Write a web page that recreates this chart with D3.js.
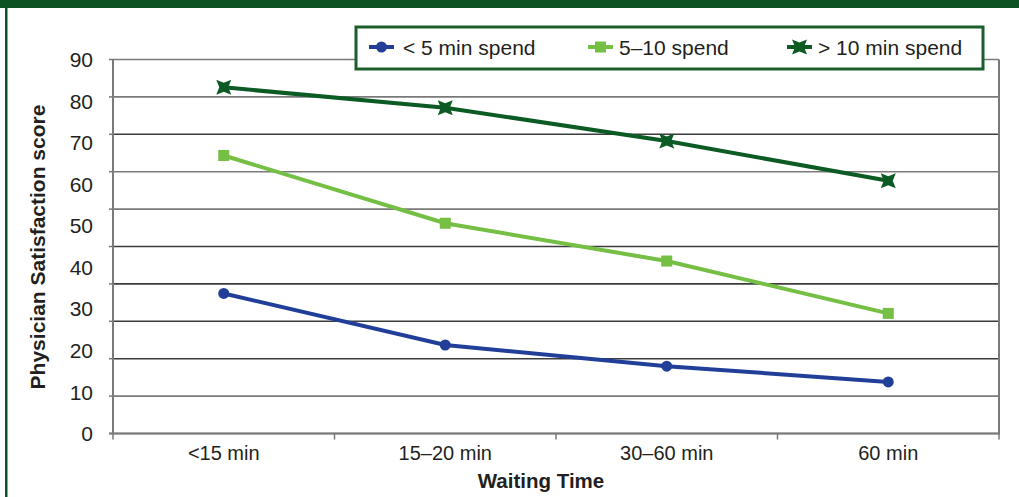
<!DOCTYPE html>
<html><head><meta charset="utf-8">
<script src="https://cdn.jsdelivr.net/npm/d3@7"></script>
<style>html,body{margin:0;padding:0;background:#fff;}svg{display:block;}</style>
</head><body>
<svg id="c" width="1019" height="497"></svg>
<script>
const categories = ["<15 min", "15\u201320 min", "30\u201360 min", "60 min"];
const seriesNames = ["< 5 min spend", "5\u201310 spend", "> 10 min spend"];
const lessThan5 = [33.7, 21.3, 16.2, 12.4];
const fiveTo10 = [66.9, 50.6, 41.5, 28.9];
const moreThan10 = [83.3, 78.4, 70.4, 60.8];
const yTickLabels = [0, 10, 20, 30, 40, 50, 60, 70, 80, 90];
const gridValues = [0, 9, 18, 27, 36, 45, 54, 63, 72, 81, 90];
const colors = ["#213f98", "#74bf44", "#0c5a24"];

const svg = d3.select("#c");
const font = "'Liberation Sans', Arial, Helvetica, sans-serif";

// frame
svg.append("rect").attr("x",0).attr("y",0).attr("width",1019).attr("height",8).attr("fill","#0b5323");
svg.append("rect").attr("x",5).attr("y",0).attr("width",2.5).attr("height",497).attr("fill","#0b5323");

const L = 113, R = 999, T = 59.5, B = 433.5;
const x = d3.scaleBand().domain(categories).range([L, R]);
const y = d3.scaleLinear().domain([0, 90]).range([B, T]);

// gridlines
svg.append("g").selectAll("line").data(gridValues).join("line")
  .attr("x1", L).attr("x2", R).attr("y1", d => y(d)).attr("y2", d => y(d))
  .attr("stroke", (d,i) => (i>=2 && i<=5) || i===8 ? "#3c3c3c" : "#7a7a7a").attr("stroke-width", 1.6);
// left tick marks
svg.append("g").selectAll("line").data(gridValues).join("line")
  .attr("x1", L-4).attr("x2", L).attr("y1", d => y(d)).attr("y2", d => y(d))
  .attr("stroke", "#777").attr("stroke-width", 1.5);
// left axis & right border
svg.append("line").attr("x1",L).attr("x2",L).attr("y1",T).attr("y2",B).attr("stroke","#7a7a7a").attr("stroke-width",2);
svg.append("line").attr("x1",R).attr("x2",R).attr("y1",T).attr("y2",B).attr("stroke","#7a7a7a").attr("stroke-width",2);
// bottom axis
svg.append("line").attr("x1",L-4).attr("x2",R+1).attr("y1",B).attr("y2",B).attr("stroke","#7a7a7a").attr("stroke-width",2);
const bounds = categories.map(c => x(c)).concat([R]);
svg.append("g").selectAll("line").data(bounds).join("line")
  .attr("x1", d => d).attr("x2", d => d).attr("y1", B).attr("y2", B+6)
  .attr("stroke", "#777").attr("stroke-width", 1.5);

// y tick labels (positioned as in the original figure: evenly over the axis)
svg.append("g").selectAll("text").data(yTickLabels).join("text")
  .attr("x", 93).attr("y", d => y(d)).attr("dy", "0.36em")
  .attr("text-anchor", "end").attr("font-family", font).attr("font-size", 21).attr("fill", "#231f20")
  .text(d => d);

// x labels
svg.append("g").selectAll("text").data(categories).join("text")
  .attr("x", d => x(d) + x.bandwidth()/2).attr("y", 460)
  .attr("text-anchor", "middle").attr("font-family", font).attr("font-size", 20).attr("fill", "#231f20")
  .text(d => d);

// axis titles
svg.append("text").attr("x", 541).attr("y", 488).attr("text-anchor","middle")
  .attr("font-family", font).attr("font-size", 20.5).attr("font-weight","bold").attr("fill","#231f20")
  .text("Waiting Time");
svg.append("text").attr("transform","translate(45,247) rotate(-90)").attr("text-anchor","middle")
  .attr("font-family", font).attr("font-size", 21).attr("font-weight","bold").attr("fill","#231f20")
  .text("Physician Satisfaction score");

// markers
function star4(s){
  const i = s*0.6;
  return `M${-s},${-s}L0,${-i}L${s},${-s}L${i},0L${s},${s}L0,${i}L${-s},${s}L${-i},0Z`;
}
function drawMarker(g, k, cx, cy){
  if (k===0) g.append("circle").attr("cx",cx).attr("cy",cy).attr("r",5.5).attr("fill",colors[0]);
  else if (k===1) g.append("rect").attr("x",cx-5.5).attr("y",cy-5.5).attr("width",11).attr("height",11).attr("fill",colors[1]);
  else g.append("path").attr("transform",`translate(${cx},${cy})`).attr("d",star4(7.5)).attr("fill",colors[2]);
}

const allSeries = [lessThan5, fiveTo10, moreThan10];
const line = d3.line().x((d,i) => x(categories[i]) + x.bandwidth()/2).y(d => y(d));
allSeries.forEach((vals, k) => {
  const g = svg.append("g");
  g.append("path").attr("d", line(vals)).attr("fill","none").attr("stroke",colors[k]).attr("stroke-width",4);
  vals.forEach((v,i) => drawMarker(g, k, x(categories[i]) + x.bandwidth()/2, y(v)));
});

// legend
const lg = svg.append("g");
lg.append("rect").attr("x",356).attr("y",27).attr("width",627).attr("height",42)
  .attr("fill","#fff").attr("stroke","#1b5e2b").attr("stroke-width",3);
const legX = [369, 588, 787];
const legTextX = [403, 619, 818];
seriesNames.forEach((n,k) => {
  lg.append("line").attr("x1",legX[k]).attr("x2",legX[k]+25).attr("y1",47).attr("y2",47)
    .attr("stroke",colors[k]).attr("stroke-width",4);
  drawMarker(lg, k, legX[k]+12.5, 47);
  lg.append("text").attr("x",legTextX[k]).attr("y",47).attr("dy","0.36em")
    .attr("font-family",font).attr("font-size",21).attr("fill","#231f20").text(n);
});
</script>
</body></html>
